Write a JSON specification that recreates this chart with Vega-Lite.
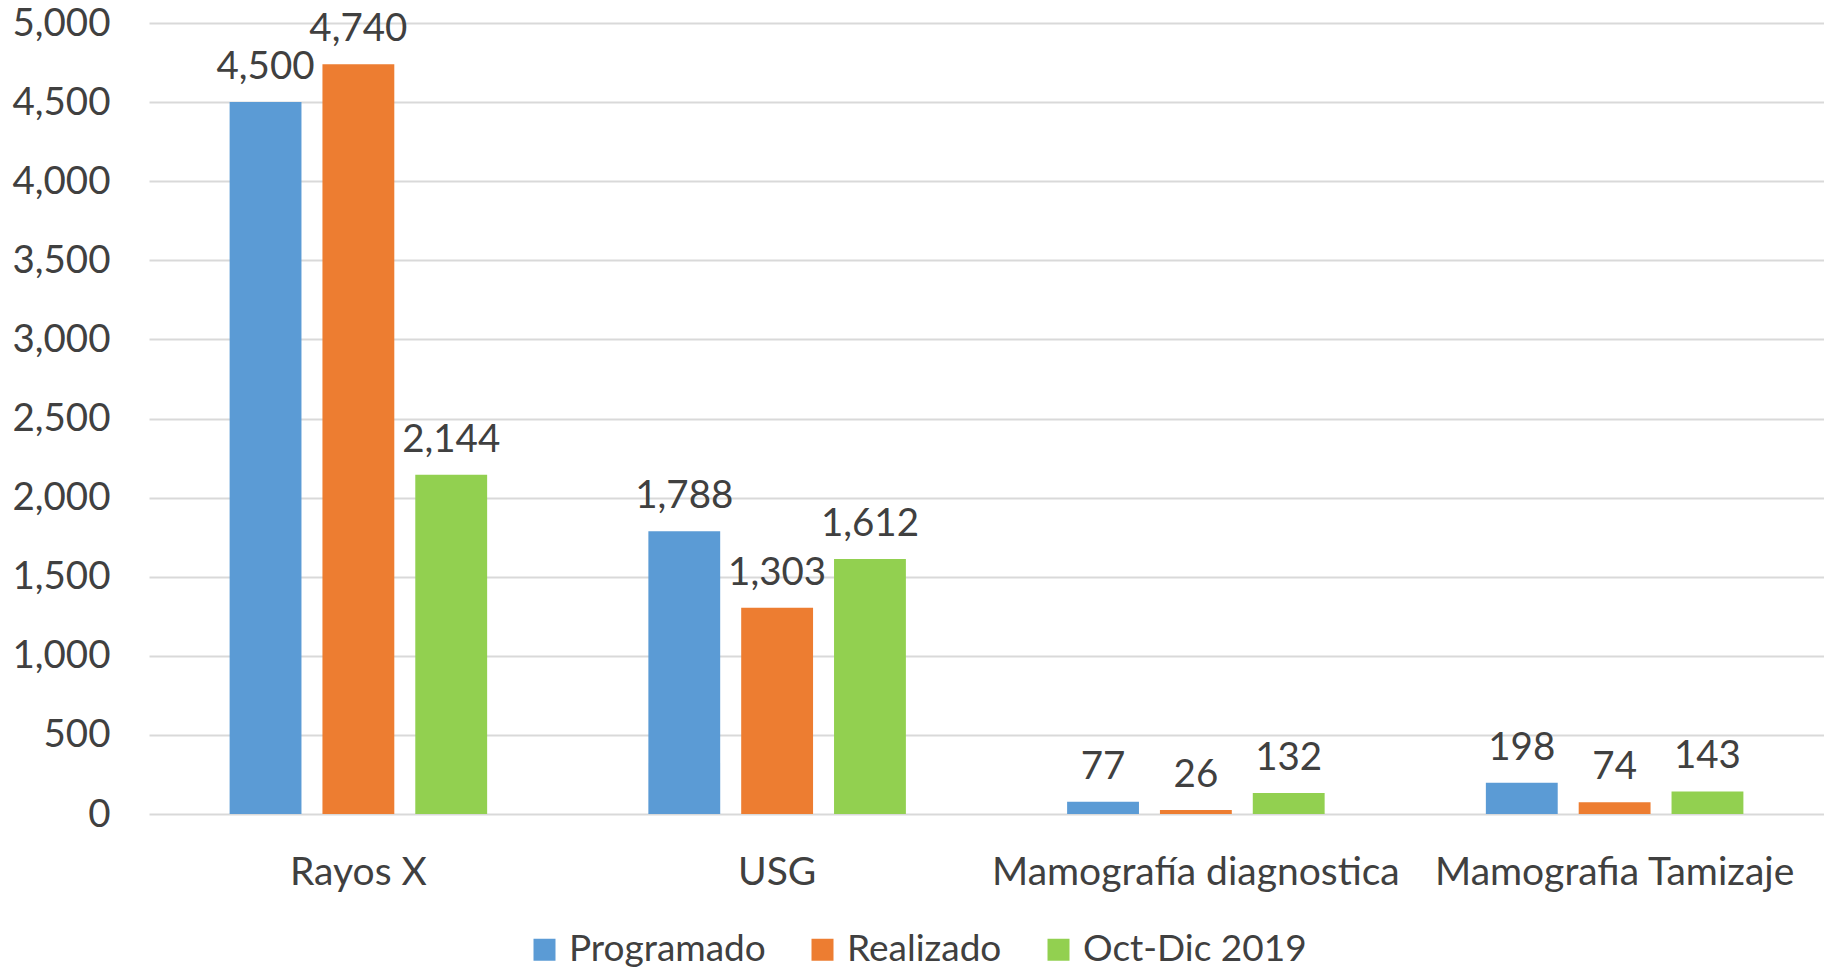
{
  "$schema": "https://vega.github.io/schema/vega-lite/v6.json",
  "autosize": {"type": "none"},
  "width": 1675,
  "height": 791,
  "padding": {"left": 149, "top": 23, "right": 0, "bottom": 156},
  "background": "white",
  "config": {
    "view": {"stroke": null},
    "font": "Lato",
    "axis": {"labelFont": "Lato", "labelColor": "#404040"},
    "legend": {"labelFont": "Lato", "labelColor": "#404040"}
  },
  "data": {
    "values": [
      {"categoria": "Rayos X", "serie": "Programado", "valor": 4500},
      {"categoria": "Rayos X", "serie": "Realizado", "valor": 4740},
      {"categoria": "Rayos X", "serie": "Oct-Dic 2019", "valor": 2144},
      {"categoria": "USG", "serie": "Programado", "valor": 1788},
      {"categoria": "USG", "serie": "Realizado", "valor": 1303},
      {"categoria": "USG", "serie": "Oct-Dic 2019", "valor": 1612},
      {"categoria": "Mamografía diagnostica", "serie": "Programado", "valor": 77},
      {"categoria": "Mamografía diagnostica", "serie": "Realizado", "valor": 26},
      {"categoria": "Mamografía diagnostica", "serie": "Oct-Dic 2019", "valor": 132},
      {"categoria": "Mamografia Tamizaje", "serie": "Programado", "valor": 198},
      {"categoria": "Mamografia Tamizaje", "serie": "Realizado", "valor": 74},
      {"categoria": "Mamografia Tamizaje", "serie": "Oct-Dic 2019", "valor": 143}
    ]
  },
  "encoding": {
    "x": {
      "field": "categoria",
      "type": "nominal",
      "sort": ["Rayos X", "USG", "Mamografía diagnostica", "Mamografia Tamizaje"],
      "scale": {"paddingInner": 0.385, "paddingOuter": 0.1925},
      "axis": {
        "title": null,
        "labelAngle": 0,
        "labelFontSize": 39,
        "labelPadding": 39,
        "labelLimit": 0,
        "ticks": false,
        "tickSize": 0,
        "domain": false,
        "grid": false
      }
    },
    "xOffset": {
      "field": "serie",
      "type": "nominal",
      "sort": ["Programado", "Realizado", "Oct-Dic 2019"],
      "scale": {"paddingInner": 0.226, "paddingOuter": 0}
    },
    "y": {
      "field": "valor",
      "type": "quantitative",
      "scale": {"domain": [0, 5000], "nice": false},
      "axis": {
        "title": null,
        "values": [0, 500, 1000, 1500, 2000, 2500, 3000, 3500, 4000, 4500, 5000],
        "format": ",.0f",
        "labelFontSize": 38.5,
        "labelPadding": 39,
        "ticks": false,
        "tickSize": 0,
        "domain": false,
        "grid": true,
        "gridColor": "#D9D9D9",
        "gridWidth": 2
      }
    }
  },
  "layer": [
    {
      "mark": {"type": "bar"},
      "encoding": {
        "color": {
          "field": "serie",
          "type": "nominal",
          "sort": ["Programado", "Realizado", "Oct-Dic 2019"],
          "scale": {
            "domain": ["Programado", "Realizado", "Oct-Dic 2019"],
            "range": ["#5B9BD5", "#ED7D31", "#92D050"]
          },
          "legend": {
            "title": null,
            "orient": "none",
            "direction": "horizontal",
            "legendX": 377,
            "legendY": 908,
            "symbolType": "square",
            "symbolSize": 484,
            "symbolStrokeWidth": 0,
            "labelFontSize": 37,
            "labelOffset": 6,
            "columnPadding": 38,
            "labelLimit": 400
          }
        }
      }
    },
    {
      "mark": {
        "type": "text",
        "baseline": "alphabetic",
        "align": "center",
        "dy": -23,
        "fontSize": 38.5,
        "font": "Lato",
        "color": "#404040"
      },
      "encoding": {
        "text": {"field": "valor", "type": "quantitative", "format": ","}
      }
    }
  ]
}
